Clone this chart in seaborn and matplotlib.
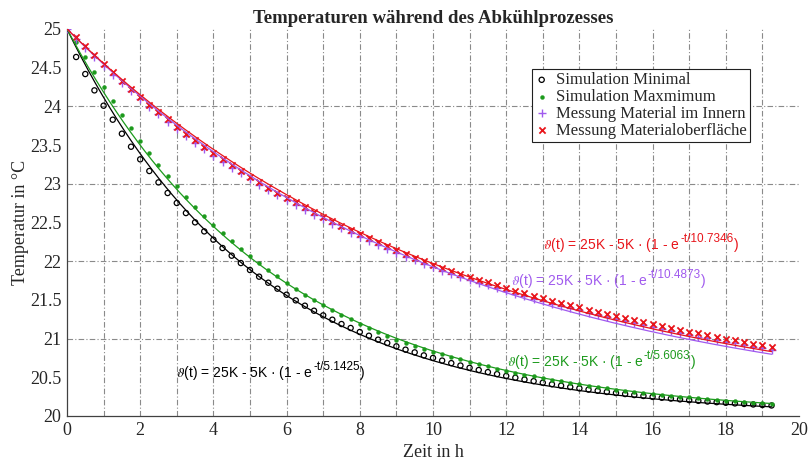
import numpy as np
import matplotlib
matplotlib.use("Agg")
import matplotlib.pyplot as plt
import seaborn as sns

# Abkuehlkurven, Messwerte alle 15 min (0 ... 19.25 h)
zeit_h = np.arange(0, 19.26, 0.25)

sim_minimal = [
    25.000, 24.638, 24.418, 24.207, 24.009, 23.828, 23.647, 23.479, 23.316, 23.165,
    23.018, 22.881, 22.752, 22.622, 22.502, 22.385, 22.278, 22.170, 22.071, 21.976,
    21.886, 21.800, 21.722, 21.645, 21.567, 21.494, 21.425, 21.360, 21.300, 21.244,
    21.188, 21.137, 21.085, 21.037, 20.986, 20.943, 20.900, 20.857, 20.822, 20.783,
    20.750, 20.716, 20.683, 20.652, 20.622, 20.594, 20.567, 20.541, 20.517, 20.494,
    20.471, 20.450, 20.430, 20.410, 20.392, 20.374, 20.357, 20.341, 20.326, 20.311,
    20.297, 20.284, 20.271, 20.259, 20.247, 20.236, 20.225, 20.215, 20.205, 20.196,
    20.187, 20.179, 20.171, 20.163, 20.156, 20.149, 20.142, 20.136]

sim_maximum = [
    25.000, 24.830, 24.638, 24.444, 24.250, 24.069, 23.889, 23.721, 23.553, 23.398,
    23.247, 23.105, 22.967, 22.829, 22.704, 22.584, 22.472, 22.364, 22.261, 22.157,
    22.062, 21.975, 21.890, 21.804, 21.718, 21.640, 21.567, 21.498, 21.434, 21.369,
    21.305, 21.248, 21.192, 21.137, 21.085, 21.037, 20.986, 20.943, 20.904, 20.865,
    20.830, 20.800, 20.766, 20.733, 20.701, 20.670, 20.641, 20.613, 20.586, 20.560,
    20.536, 20.513, 20.490, 20.469, 20.448, 20.428, 20.410, 20.392, 20.374, 20.358,
    20.342, 20.327, 20.313, 20.299, 20.286, 20.273, 20.261, 20.250, 20.239, 20.228,
    20.218, 20.209, 20.200, 20.191, 20.182, 20.174, 20.167, 20.159]

mess_innen = [
    25.000, 24.868, 24.748, 24.633, 24.520, 24.410, 24.302, 24.197, 24.094, 23.994,
    23.896, 23.801, 23.709, 23.619, 23.532, 23.447, 23.365, 23.286, 23.209, 23.134,
    23.058, 22.984, 22.917, 22.851, 22.787, 22.724, 22.662, 22.601, 22.541, 22.483,
    22.426, 22.370, 22.315, 22.262, 22.210, 22.159, 22.109, 22.060, 22.012, 21.966,
    21.921, 21.876, 21.836, 21.797, 21.759, 21.722, 21.686, 21.650, 21.615, 21.581,
    21.548, 21.515, 21.483, 21.452, 21.422, 21.392, 21.363, 21.335, 21.307, 21.280,
    21.254, 21.227, 21.201, 21.175, 21.149, 21.124, 21.099, 21.075, 21.051, 21.027,
    21.004, 20.981, 20.959, 20.937, 20.916, 20.895, 20.875, 20.855]

mess_oberflaeche = [
    25.000, 24.896, 24.778, 24.663, 24.550, 24.440, 24.332, 24.227, 24.124, 24.024,
    23.926, 23.831, 23.739, 23.649, 23.562, 23.477, 23.395, 23.316, 23.239, 23.164,
    23.090, 23.019, 22.952, 22.886, 22.822, 22.759, 22.697, 22.636, 22.576, 22.518,
    22.461, 22.405, 22.350, 22.297, 22.245, 22.194, 22.144, 22.095, 22.047, 22.001,
    21.956, 21.915, 21.876, 21.837, 21.799, 21.762, 21.726, 21.690, 21.655, 21.621,
    21.588, 21.555, 21.523, 21.492, 21.462, 21.432, 21.403, 21.375, 21.347, 21.320,
    21.294, 21.267, 21.241, 21.215, 21.189, 21.164, 21.139, 21.115, 21.091, 21.067,
    21.044, 21.021, 20.999, 20.977, 20.956, 20.935, 20.915, 20.895]

# Zeitkonstanten der Fits (aus den Beschriftungen)
tau_minimal = 5.1425
tau_maximum = 5.6063
tau_innen = 10.4873
tau_oberflaeche = 10.7346

c_black = "#000000"
c_green = "#1c9a1c"
c_purple = "#a05aee"
c_red = "#e8141a"

sns.set_style("white")
plt.rcParams["font.family"] = ["Liberation Serif", "DejaVu Serif"]
plt.rcParams["mathtext.fontset"] = "stix"

fig = plt.figure(figsize=(8.1, 4.66), dpi=100)
ax = fig.add_axes([0.0827, 0.1073, 0.9037, 0.8305])

sns.scatterplot(x=zeit_h, y=sim_minimal, marker="o", s=14, facecolor="none",
                edgecolor=c_black, linewidth=0.9, label="Simulation Minimal", ax=ax, zorder=3)
sns.scatterplot(x=zeit_h, y=sim_maximum, marker="o", s=8, color=c_green,
                edgecolor=c_green, linewidth=0.3, label="Simulation Maxmimum", ax=ax, zorder=3)
sns.scatterplot(x=zeit_h, y=mess_innen, marker="+", s=40, color=c_purple,
                linewidth=1.0, label="Messung Material im Innern", ax=ax, zorder=3)
sns.scatterplot(x=zeit_h, y=mess_oberflaeche, marker="x", s=20, color=c_red,
                linewidth=1.3, label="Messung Materialoberfläche", ax=ax, zorder=3)

t_fit = np.linspace(0, zeit_h[-1], 300)
for tau, col in [(tau_minimal, c_black), (tau_maximum, c_green),
                 (tau_innen, c_purple), (tau_oberflaeche, c_red)]:
    sns.lineplot(x=t_fit, y=25 - 5 * (1 - np.exp(-t_fit / tau)), color=col,
                 linewidth=0.9, ax=ax, legend=False, zorder=4)

# Fit-Beschriftungen: Grundtext, Exponent und schliessende Klammer
sans = ["Liberation Sans", "DejaVu Sans"]
fit_texts = [(2.98, 20.50, tau_minimal, c_black),
             (12.01, 20.641, tau_maximum, c_green),
             (12.12, 21.696, tau_innen, c_purple),
             (13.01, 22.158, tau_oberflaeche, c_red)]
for tx, ty, tau, col in fit_texts:
    base = ax.text(tx, ty, r"$\vartheta$(t) = 25K - 5K · (1 - e", color=col,
                   fontsize=10, family=sans, va="baseline", ha="left", zorder=5)
    sup = ax.annotate("-t/%.4f" % tau, xy=(1, ty), xycoords=(base, "data"), xytext=(0.3, 5.2),
                      textcoords="offset points", color=col, fontsize=8.5, family=sans,
                      va="baseline", ha="left", zorder=5)
    ax.annotate(")", xy=(1, ty), xycoords=(sup, "data"), xytext=(0.2, 0),
                textcoords="offset points", color=col, fontsize=10, family=sans,
                va="baseline", ha="left", zorder=5)

ax.set_xlim(0, 20)
ax.set_ylim(20, 25)
ax.set_xticks(np.arange(0, 21, 2))
ax.set_xticks(np.arange(1, 20, 1), minor=True)
ax.set_yticks(np.arange(20, 25.01, 0.5))
ax.set_yticks([21, 22, 23, 24], minor=True)
ax.set_yticklabels(["20", "20.5", "21", "21.5", "22", "22.5", "23", "23.5", "24", "24.5", "25"])
ax.xaxis.remove_overlapping_locs = False
ax.yaxis.remove_overlapping_locs = False

ax.grid(False)
ax.grid(True, which="minor", color="#8a8a8a", linestyle=(0, (5, 2, 1, 2)), linewidth=0.8)
ax.tick_params(axis="both", which="major", direction="in", length=6, width=0.8,
               labelsize=13, colors="#262626", pad=4)
ax.tick_params(axis="x", which="minor", direction="in", length=3, width=0.6, colors="#262626")
ax.tick_params(axis="y", which="minor", length=0)

for side in ["top", "right"]:
    ax.spines[side].set_visible(False)
for side in ["left", "bottom"]:
    ax.spines[side].set_color("#404040")
    ax.spines[side].set_linewidth(0.9)

ax.set_xlabel("Zeit in h", fontsize=13, color="#262626", labelpad=4)
ax.set_ylabel("Temperatur in °C", fontsize=13, color="#262626", labelpad=1)
ax.set_title("Temperaturen während des Abkühlprozesses", fontsize=13.5, fontweight="bold", pad=4)

leg = ax.legend(loc="upper right", bbox_to_anchor=(0.933, 0.897), fontsize=12,
                frameon=True, fancybox=False, framealpha=1, edgecolor="#202020",
                handlelength=0.8, handletextpad=0.45, borderpad=0.2, labelspacing=0.05,
                borderaxespad=0)
leg.get_frame().set_linewidth(0.8)

fig.savefig("out.png", dpi=100)
